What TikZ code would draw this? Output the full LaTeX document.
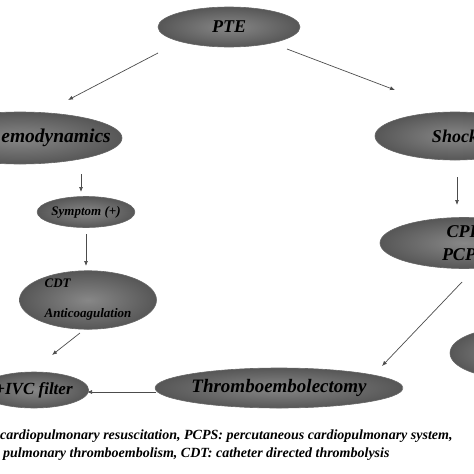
\documentclass[tikz,border=0pt]{standalone}
\usepackage{fontspec}
\setmainfont{Liberation Serif}
\usetikzlibrary{shapes.geometric,arrows.meta}
\begin{document}
\begin{tikzpicture}[x=1pt,y=-1pt,
    blob/.style={ellipse,inner sep=0pt,draw=black!60,line width=.6pt,shade,inner color=black!47,outer color=black!66,
      font=\bfseries\itshape\fontsize{18}{23}\selectfont},
    arr/.style={-{Latex[length=5pt,width=4pt]},line width=.7pt,black!70},
    note/.style={anchor=base west,inner sep=0pt,font=\bfseries\itshape\fontsize{14}{18}\selectfont}]
  \useasboundingbox (0,0) rectangle (474,474);
  \clip (0,0) rectangle (474,474);
  \node[blob,minimum width=142pt,minimum height=40pt] (PTE) at (229,27) {PTE};
  \node[blob,minimum width=204pt,minimum height=52pt] (hemo) at (20,138) {};
  \node[anchor=east,inner sep=0pt,font=\bfseries\itshape\fontsize{19.5}{23}\selectfont] (hemotxt) at (111,138) {emodynamics};
  \node[blob,minimum width=160pt,minimum height=48pt] (shock) at (455,136) {Shock};
  \node[blob,minimum width=86pt,minimum height=31pt,font=\bfseries\itshape\fontsize{13}{15}\selectfont] (symp) at (86,212) {Symptom (+)};
  \node[blob,minimum width=137pt,minimum height=54pt,align=left,font=\bfseries\itshape\fontsize{13}{30}\selectfont] (CDT) at (88,300) {CDT\\Anticoagulation};
  \node[blob,minimum width=168pt,minimum height=51pt,align=center] (CPR) at (464,243) {CPR\\PCPS};
  \node[blob,minimum width=120pt,minimum height=50pt] (right) at (510,353) {};
  \node[blob,minimum width=188pt,minimum height=40pt,font=\bfseries\itshape\fontsize{19}{23}\selectfont] (thromb) at (279,388) {Thromboembolectomy};
  \node[blob,minimum width=84pt,minimum height=36pt,font=\bfseries\itshape\fontsize{17}{20}\selectfont] (IVC) at (34,390) {+IVC filter};
  \draw[arr] ([shift={(-71,26)}]PTE.center) -- ([shift={(48,-38)}]hemo.center);
  \draw[arr] ([shift={(58,22)}]PTE.center) -- ([shift={(-60,-46)}]shock.center);
  \draw[arr] ([shift={(61,36)}]hemo.center) -- ([shift={(-5,-20)}]symp.center);
  \draw[arr] ([shift={(0,22)}]symp.center) -- ([shift={(-2,-34)}]CDT.center);
  \draw[arr] ([shift={(-8,33)}]CDT.center) -- ([shift={(18,-35)}]IVC.center);
  \draw[arr] ([shift={(-123,4)}]thromb.center) -- ([shift={(53,2)}]IVC.center);
  \draw[arr] ([shift={(2,41)}]shock.center) -- ([shift={(-7,-38)}]CPR.center);
  \draw[arr] ([shift={(-2,39)}]CPR.center) -- ([shift={(103,-22)}]thromb.center);
  \node[note] (cap1) at (0,439) {cardiopulmonary resuscitation, PCPS: percutaneous cardiopulmonary system,};
  \node[note] (cap2) at (3,457) {pulmonary thromboembolism, CDT: catheter directed thrombolysis};
\end{tikzpicture}
\end{document}
